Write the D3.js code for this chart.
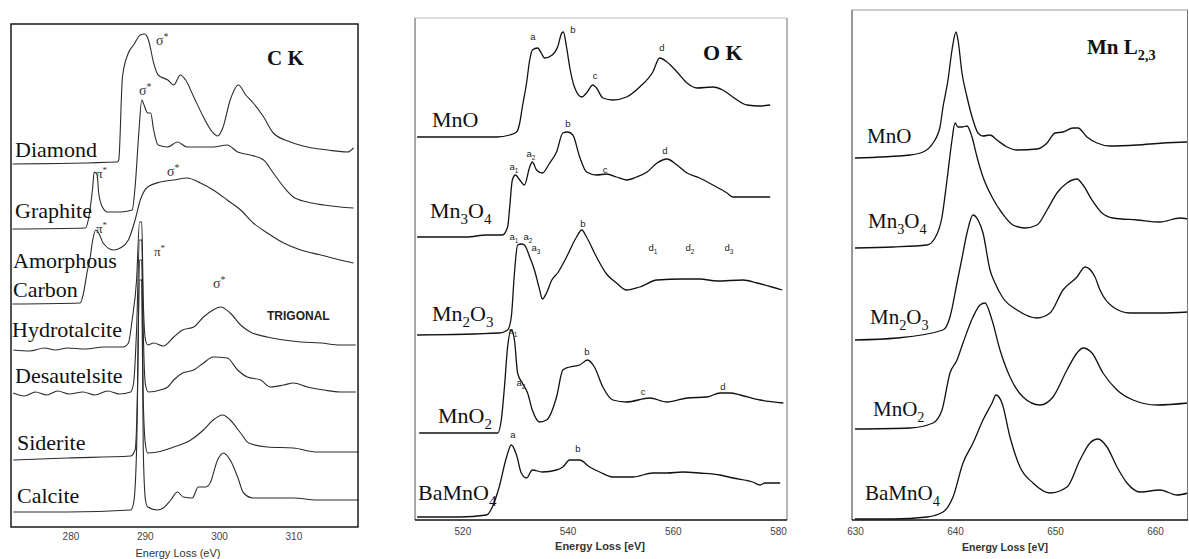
<!DOCTYPE html>
<html><head><meta charset="utf-8">
<script src="https://cdn.jsdelivr.net/npm/d3@7"></script>
<style>body{margin:0;background:#fff;overflow:hidden}</style>
</head><body><svg id="c" width="1189" height="559"></svg>
<script>
// ---------- Panel 1 : C K edge (energy eV, stacked intensity a.u.) ----------
const ckTicks = [280, 290, 300, 310];
const ckNames = ["Diamond", "Graphite", "Amorphous Carbon", "Hydrotalcite", "Desautelsite", "Siderite", "Calcite"];
const ckDiamond = [[272.2,363],[286.3,365],[286.5,367],[287.0,450],[287.8,474],[288.5,482],[289.4,492],[290.0,493],[290.5,487],[291.2,464],[291.8,452],[293.1,447],[293.9,442],[294.8,452],[295.5,447],[296.6,430],[297.9,410],[299.1,395],[299.8,391],[300.5,399],[301.5,427],[302.6,442],[303.6,432],[304.6,424],[306.0,410],[307.3,394],[309.6,385],[311.9,380],[314.6,377],[317.3,375],[318.1,379]];
const ckGraphite = [[272.2,298],[282.0,299],[282.4,307],[283.0,340],[283.2,355],[283.6,352],[283.8,334],[284.3,320],[285.0,315],[286.7,315],[288.3,317],[288.7,340],[289.2,394],[289.6,427],[289.8,424],[290.4,414],[290.8,414],[291.2,397],[291.8,382],[293.1,380],[294.4,385],[295.7,380],[297.5,380],[299.2,380],[301.1,382],[302.5,375],[304.2,372],[306.0,367],[307.3,354],[308.7,340],[310.0,330],[311.9,325],[314.1,322],[316.3,320],[318.1,319]];
const ckAmorphous = [[272.2,223],[281.3,224],[281.7,232],[282.3,257],[282.6,267],[283.0,287],[283.4,297],[283.8,294],[284.4,284],[285.8,277],[286.7,279],[287.8,287],[288.7,307],[289.4,327],[290.4,340],[292.1,345],[293.9,347],[295.7,349],[297.5,344],[299.2,337],[301.1,327],[302.9,317],[304.6,304],[306.5,294],[308.7,284],[311.0,277],[313.7,272],[316.3,267],[318.1,264]];
const ckHydrotalcite = [[272.3,177],[274.5,176],[276.5,179],[278.0,177],[279.6,179],[282.0,178],[284.5,180],[287.1,180],[287.8,184],[288.3,207],[288.9,247],[289.3,305],[289.6,305],[289.8,227],[290.1,187],[290.4,182],[291.2,184],[292.5,181],[293.9,190],[295.1,197],[296.6,200],[297.9,210],[299.2,217],[300.2,220],[301.5,214],[302.9,202],[304.2,195],[306.5,190],[308.7,187],[311.0,185],[313.7,184],[316.3,182],[318.4,182]];
const ckDesautelsite = [[272.3,134],[273.8,131],[275.3,135],[276.8,132],[278.3,136],[279.8,133],[281.7,135],[283.3,132],[285.0,136],[286.6,133],[288.1,135],[288.5,144],[288.9,197],[289.3,287],[289.6,287],[289.8,197],[290.1,142],[290.5,135],[292.1,137],[293.1,140],[293.9,147],[295.1,154],[296.6,157],[297.9,164],[299.2,170],[301.1,169],[302.5,157],[303.8,150],[305.6,147],[306.9,140],[308.7,142],[310.0,144],[311.9,140],[314.1,137],[316.3,135],[318.4,135]];
const ckSiderite = [[272.3,67],[279.6,69],[288.1,71],[288.7,77],[289.0,127],[289.3,267],[289.6,267],[289.8,127],[290.1,82],[290.4,74],[291.7,75],[293.9,80],[296.2,87],[297.9,97],[299.2,107],[300.5,112],[301.5,107],[302.9,94],[304.0,84],[306.5,80],[310.0,79],[313.2,75],[315.4,75],[318.8,75]];
const ckCalcite = [[272.3,15],[279.6,15],[288.1,17],[288.5,24],[288.9,77],[289.3,247],[289.6,247],[289.8,77],[290.1,27],[290.4,20],[291.7,17],[292.5,19],[293.5,27],[294.4,35],[295.2,30],[296.4,29],[297.2,40],[298.2,40],[298.8,44],[299.8,67],[300.6,74],[301.5,67],[302.5,50],[303.3,34],[304.6,29],[307.3,29],[310.0,29],[313.2,27],[315.4,27],[318.8,27]];

// ---------- Panel 2 : O K edge ----------
const okTicks = [520, 540, 560, 580];
const okNames = ["MnO", "Mn3O4", "Mn2O3", "MnO2", "BaMnO4"];
const okMnO = [[511.4,383],[520.8,383],[526.5,383],[529.0,385],[530.3,388],[530.9,397],[531.4,413],[532.2,437],[532.8,460],[533.3,470],[534.3,472],[535.0,467],[535.6,462],[537.1,465],[538.1,473],[538.9,487],[539.2,488],[539.8,473],[540.4,453],[541.3,433],[542.7,423],[543.6,427],[544.8,435],[545.5,432],[546.7,422],[548.6,420],[551.2,423],[553.7,433],[556.2,448],[557.5,462],[558.9,458],[560.8,448],[562.7,437],[564.6,432],[567.6,433],[569.5,430],[571.4,423],[574.1,415],[576.6,414],[578.5,415]];
const okMn3O4 = [[511.4,283],[520.8,283],[524.6,285],[527.6,285],[528.6,293],[529.0,313],[529.5,340],[530.1,345],[530.9,340],[531.8,335],[532.8,353],[533.3,358],[534.1,350],[535.2,347],[536.6,357],[537.9,368],[539.1,387],[540.0,388],[541.0,385],[542.3,363],[543.6,348],[545.5,345],[547.4,346],[549.3,343],[551.2,340],[553.1,343],[555.1,348],[557.0,357],[558.9,361],[560.8,355],[562.7,347],[565.1,342],[567.6,335],[570.3,327],[571.4,323],[574.1,323],[578.5,323]];
const okMn2O3 = [[511.4,185],[527.0,187],[528.6,190],[529.3,203],[529.9,247],[530.5,275],[531.2,276],[531.8,275],[532.8,263],[533.7,250],[534.7,230],[535.2,221],[536.0,227],[537.0,240],[538.1,247],[539.8,263],[541.7,283],[542.7,290],[543.6,283],[545.5,263],[547.4,246],[549.3,237],[551.2,230],[553.7,233],[557.0,240],[561.9,241],[565.1,241],[568.4,239],[573.3,240],[576.0,237],[580.8,230]];
const okMnO2 = [[511.8,87],[526.7,87],[527.4,100],[528.0,133],[528.6,173],[529.3,190],[529.9,180],[530.5,147],[531.4,137],[532.4,127],[533.3,110],[534.7,98],[536.0,100],[537.9,123],[539.1,150],[540.4,153],[542.3,155],[543.8,160],[545.1,153],[546.7,133],[548.6,120],[551.2,118],[555.6,122],[558.9,118],[562.7,122],[566.5,123],[569.0,127],[570.9,127],[572.8,125],[576.6,120],[581.0,117]];
const okBaMnO4 = [[511.4,3],[519.4,3],[524.6,5],[525.7,13],[527.0,33],[528.4,63],[529.3,75],[530.3,65],[531.2,47],[532.2,42],[533.3,50],[535.2,48],[537.9,50],[539.1,53],[540.4,60],[542.3,60],[544.2,53],[546.1,48],[548.6,43],[552.4,43],[556.2,47],[558.9,47],[561.9,48],[565.1,47],[569.0,45],[571.4,42],[575.2,38],[576.6,35],[577.5,37],[580.4,37]];

// ---------- Panel 3 : Mn L2,3 edge ----------
const mnTicks = [630, 640, 650, 660];
const mnNames = ["MnO", "Mn3O4", "Mn2O3", "MnO2", "BaMnO4"];
const mnMnO = [[630.0,362],[635.5,365],[636.8,368],[637.8,377],[638.5,393],[638.8,413],[639.3,440],[639.7,470],[640.1,488],[640.3,480],[640.7,447],[641.2,423],[641.8,400],[642.3,387],[642.8,384],[643.5,385],[644.2,380],[645.2,373],[646.2,370],[648.2,371],[649.2,377],[650.0,387],[650.8,388],[651.8,392],[652.3,392],[653.2,383],[654.2,377],[655.5,374],[658.2,375],[660.8,377],[663.3,378]];
const mnMn3O4 = [[630.0,272],[633.8,273],[637.2,275],[638.0,282],[638.7,303],[639.2,340],[639.7,380],[640.0,397],[640.3,393],[640.7,393],[641.2,394],[641.7,383],[642.2,363],[642.8,343],[643.7,323],[644.7,307],[645.8,295],[647.0,292],[648.2,295],[649.2,310],[650.2,327],[651.2,337],[652.2,341],[652.8,335],[653.7,320],[654.7,307],[655.8,302],[658.2,300],[660.5,298],[662.5,302],[663.3,301]];
const mnMn2O3 = [[630.0,180],[634.2,182],[638.8,190],[639.5,203],[640.2,237],[640.7,262],[641.2,287],[641.8,305],[642.3,300],[642.8,287],[643.5,250],[644.0,237],[644.8,222],[646.2,210],[648.2,202],[649.5,207],[650.8,230],[652.2,243],[653.0,253],[654.0,243],[654.5,230],[655.8,213],[657.5,207],[660.5,207],[663.3,208]];
const mnMnO2 = [[630.0,91],[635.5,92],[637.8,97],[638.7,110],[639.5,147],[640.2,160],[640.8,177],[641.8,203],[642.5,215],[643.0,217],[643.7,200],[644.5,170],[645.5,143],[646.8,123],[648.5,115],[649.8,123],[651.2,150],[652.2,167],[652.8,172],[653.7,167],[654.8,147],[656.2,130],[657.8,120],[660.2,115],[663.3,117]];
const mnBaMnO4 = [[630.0,1],[633.8,1],[637.2,3],[638.8,8],[639.8,23],[640.8,57],[641.8,77],[642.8,100],[643.7,117],[644.1,125],[644.7,117],[645.5,83],[646.5,53],[647.8,37],[649.5,27],[651.2,33],[652.5,60],[653.5,77],[654.3,81],[655.2,73],[656.2,53],[657.2,37],[658.5,28],[660.5,30],[662.2,25],[663.3,27]];

// ================= drawing =================
const svg = d3.select('#c');
const SERIF = "'Liberation Serif','Times New Roman',serif";
const SANS = "'Liberation Sans',Arial,sans-serif";

function chem(sel, str, fs, shift) {
  const parts = str.match(/[^\d,]+|[\d,]+/g);
  let low = false;
  parts.forEach(p => {
    const isSub = /^[\d,]+$/.test(p);
    const t = sel.append('tspan').text(p);
    if (isSub) { t.attr('font-size', fs * 0.68).attr('dy', low ? 0 : shift); low = true; }
    else { t.attr('font-size', fs).attr('dy', low ? -shift : 0); low = false; }
  });
}
function star(sel, x, y, greek, fs) {
  const t = sel.append('text').attr('x', x).attr('y', y).attr('font-family', SERIF)
    .attr('font-size', fs).attr('fill', '#333').text(greek);
  t.append('tspan').attr('font-size', fs * 0.7).attr('dy', -fs * 0.35).text('*');
}

function panel(cfg) {
  const g = svg.append('g');
  const x = d3.scaleLinear().domain(cfg.xd).range(cfg.xr);
  const y = d3.scaleLinear().domain(cfg.yd).range(cfg.yr);
  const line = d3.line().x(d => x(d[0])).y(d => y(d[1])).curve(d3.curveMonotoneX);
  cfg.series.forEach(s => {
    g.append('path').datum(s).attr('d', line).attr('fill', 'none')
      .attr('stroke', cfg.stroke).attr('stroke-width', cfg.sw).attr('stroke-linejoin', 'round');
  });
  const ax = g.append('g').attr('transform', `translate(0,${cfg.yr[0]})`)
    .call(d3.axisBottom(x).tickValues(cfg.ticks).tickSize(0).tickPadding(cfg.pad).tickFormat(d3.format('d')));
  ax.select('.domain').remove();
  ax.selectAll('text').attr('font-family', SANS).attr('font-size', 10).attr('fill', '#444');
  g.append('text').attr('x', cfg.titleX).attr('y', cfg.titleY).attr('text-anchor', 'middle')
    .attr('font-family', SANS).attr('font-size', cfg.titleFs).attr('font-weight', cfg.titleW)
    .attr('fill', '#333').text(cfg.title);
  return { g, x, y };
}

// ---- Panel 1
const p1 = panel({
  xd: [272, 318.7], xr: [11, 358], yd: [0, 503], yr: [527, 24],
  series: [ckDiamond, ckGraphite, ckAmorphous, ckHydrotalcite, ckDesautelsite, ckSiderite, ckCalcite],
  stroke: '#2b2b2b', sw: 1.1, ticks: ckTicks, pad: 6,
  title: 'Energy Loss (eV)', titleX: 178, titleY: 557, titleFs: 11, titleW: 'normal'
});
p1.g.append('rect').attr('x', 11).attr('y', 24).attr('width', 347).attr('height', 503)
  .attr('fill', 'none').attr('stroke', '#1a1a1a').attr('stroke-width', 1.5);
const ckLab = [[15,157],[15,218],[13,268],[13,297],[12,337],[15,383],[17,450],[17,503]];
const ckLabText = ["Diamond","Graphite","Amorphous","Carbon","Hydrotalcite","Desautelsite","Siderite","Calcite"];
ckLabText.forEach((t, i) => {
  p1.g.append('text').attr('x', ckLab[i][0]).attr('y', ckLab[i][1]).attr('font-family', SERIF)
    .attr('font-size', 22).attr('fill', '#111').text(t);
});
p1.g.append('text').attr('x', 267).attr('y', 65).attr('font-family', SERIF).attr('font-size', 21)
  .attr('font-weight', 'bold').attr('fill', '#111').text('C K');
p1.g.append('text').attr('x', 267).attr('y', 320).attr('font-family', SANS).attr('font-size', 12)
  .attr('font-weight', 'bold').attr('fill', '#222').text('TRIGONAL');
star(p1.g, 156, 45, 'σ', 14);
star(p1.g, 139, 95, 'σ', 14);
star(p1.g, 96, 178, 'π', 13);
star(p1.g, 167, 176, 'σ', 14);
star(p1.g, 96, 233, 'π', 13);
star(p1.g, 154, 256, 'π', 13);
star(p1.g, 213, 288, 'σ', 14);

// ---- Panel 2
const p2 = panel({
  xd: [511, 581.7], xr: [415, 787], yd: [0, 502], yr: [520, 18],
  series: [okMnO, okMn3O4, okMn2O3, okMnO2, okBaMnO4],
  stroke: '#111', sw: 1.3, ticks: okTicks, pad: 8,
  title: 'Energy Loss [eV]', titleX: 600, titleY: 550, titleFs: 11, titleW: 'bold'
});
p2.g.append('line').attr('x1', 415).attr('y1', 18).attr('x2', 787).attr('y2', 18).attr('stroke', '#bbb').attr('stroke-width', 1);
p2.g.append('line').attr('x1', 415).attr('y1', 18).attr('x2', 415).attr('y2', 520).attr('stroke', '#555').attr('stroke-width', 1);
p2.g.append('line').attr('x1', 787).attr('y1', 18).attr('x2', 787).attr('y2', 520).attr('stroke', '#888').attr('stroke-width', 1.2);
p2.g.append('line').attr('x1', 415).attr('y1', 520).attr('x2', 787).attr('y2', 520).attr('stroke', '#111').attr('stroke-width', 1.5);
const okLab = [[432,127],[430,218],[432,321],[438,423],[418,500]];
okNames.forEach((t, i) => {
  const tx = p2.g.append('text').attr('x', okLab[i][0]).attr('y', okLab[i][1]).attr('font-family', SERIF).attr('fill', '#111');
  chem(tx, t, 22, 6);
});
p2.g.append('text').attr('x', 703).attr('y', 60).attr('font-family', SERIF).attr('font-size', 22)
  .attr('font-weight', 'bold').attr('fill', '#111').text('O K');
const okPeakTxt = ["a","b","c","d","a1","a2","b","c","d","a1","a2","a3","b","d1","d2","d3","a1","a2","b","c","d","a","b"];
const okPeakPos = [[533,40],[573,33],[595,79],[662,51],[514,170],[531,157],[568,127],[605,173],[665,154],[514,240],[528,240],[536,251],[583,227],[653,251],[690,251],[729,251],[513,334],[521,386],[587,355],[643,395],[723,390],[513,438],[578,452]];
okPeakTxt.forEach((t, i) => {
  const tx = p2.g.append('text').attr('x', okPeakPos[i][0]).attr('y', okPeakPos[i][1]).attr('text-anchor', 'middle')
    .attr('font-family', SANS).attr('fill', '#222');
  chem(tx, t, 9.5, 2.5);
});

// ---- Panel 3
const p3 = panel({
  xd: [629.7, 663.3], xr: [852, 1188], yd: [0, 510], yr: [520, 10],
  series: [mnMnO, mnMn3O4, mnMn2O3, mnMnO2, mnBaMnO4],
  stroke: '#111', sw: 1.3, ticks: mnTicks, pad: 8,
  title: 'Energy Loss [eV]', titleX: 1005, titleY: 551, titleFs: 10.5, titleW: 'bold'
});
p3.g.append('line').attr('x1', 852).attr('y1', 10).attr('x2', 1188).attr('y2', 10).attr('stroke', '#999').attr('stroke-width', 1.2);
p3.g.append('line').attr('x1', 852).attr('y1', 10).attr('x2', 852).attr('y2', 520).attr('stroke', '#333').attr('stroke-width', 1);
p3.g.append('line').attr('x1', 1187.5).attr('y1', 10).attr('x2', 1187.5).attr('y2', 520).attr('stroke', '#777').attr('stroke-width', 1);
p3.g.append('line').attr('x1', 852).attr('y1', 520).attr('x2', 1188).attr('y2', 520).attr('stroke', '#111').attr('stroke-width', 1.5);
const mnLab = [[867,143],[868,228],[870,324],[873,416],[865,500]];
mnNames.forEach((t, i) => {
  const tx = p3.g.append('text').attr('x', mnLab[i][0]).attr('y', mnLab[i][1]).attr('font-family', SERIF).attr('fill', '#111');
  chem(tx, t, 21, 6);
});
const mt = p3.g.append('text').attr('x', 1087).attr('y', 54).attr('font-family', SERIF)
  .attr('font-weight', 'bold').attr('fill', '#111');
chem(mt, 'Mn L2,3', 21, 6);
</script></body></html>
